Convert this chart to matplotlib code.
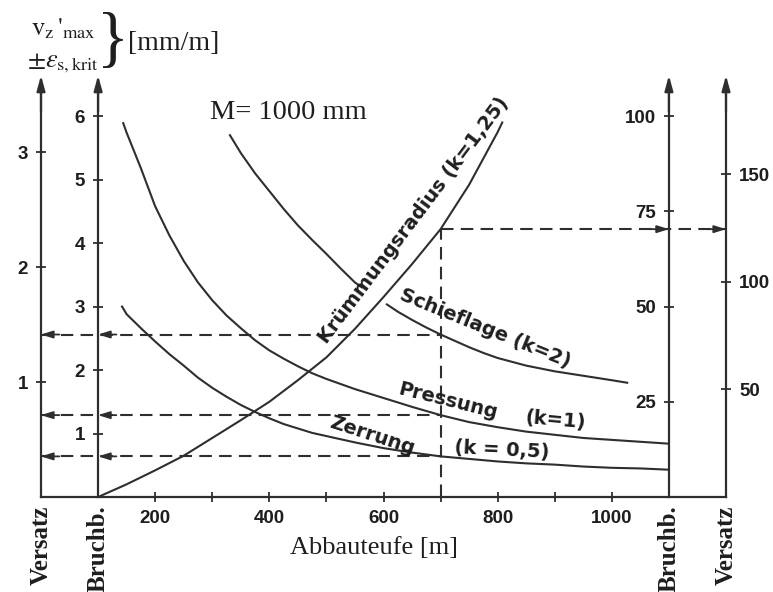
import numpy as np
import matplotlib
matplotlib.use("Agg")
import matplotlib.pyplot as plt

# ---------------- data ----------------
# Abbauteufe [m] and values on the left "Bruchb." scale [mm/m]
depth_pressung = [144, 150, 175, 200, 225, 250, 275, 300, 325, 350, 375, 400, 425,
                  450, 475, 500, 550, 600, 650, 700, 750, 800, 850, 900, 950, 1000,
                  1050, 1100]
eps_pressung = [5.89, 5.74, 5.18, 4.58, 4.12, 3.72, 3.38, 3.10, 2.86, 2.66, 2.47,
                2.31, 2.18, 2.06, 1.95, 1.86, 1.70, 1.56, 1.42, 1.29, 1.18, 1.10,
                1.03, 0.98, 0.93, 0.90, 0.87, 0.84]

depth_zerrung = [142, 150, 175, 200, 225, 250, 275, 300, 325, 350, 375, 400, 425,
                 450, 475, 500, 550, 600, 650, 700, 750, 800, 850, 900, 950, 1000,
                 1050, 1100]
eps_zerrung = [3.00, 2.88, 2.66, 2.45, 2.25, 2.07, 1.88, 1.72, 1.58, 1.45, 1.34,
               1.24, 1.15, 1.08, 1.01, 0.96, 0.86, 0.77, 0.70, 0.64, 0.60, 0.56,
               0.53, 0.51, 0.48, 0.46, 0.45, 0.43]

depth_schief = [331, 350, 375, 400, 425, 450, 475, 500, 525, 550, 575, 600, 625,
                650, 675, 700, 725, 750, 775, 800, 850, 900, 950, 1000, 1027]
eps_schief = [5.70, 5.42, 5.10, 4.82, 4.54, 4.28, 4.05, 3.83, 3.60, 3.38, 3.22,
              3.07, 2.92, 2.79, 2.67, 2.56, 2.46, 2.36, 2.27, 2.19, 2.07, 1.98,
              1.91, 1.84, 1.80]
schief_gap = (562, 606)   # curve interrupted where the Krümmungsradius line crosses

depth_kruemm = [100, 150, 200, 250, 300, 350, 400, 450, 500, 550, 600, 650, 700,
                750, 800, 808]
eps_kruemm = [0.00, 0.20, 0.42, 0.65, 0.93, 1.21, 1.50, 1.84, 2.20, 2.65, 3.15,
              3.67, 4.22, 4.92, 5.75, 5.90]

# example reading depth
depth_read = 700

# scale relations of the four vertical axes (relative to left Bruchb. scale)
f_versatz_left = 0.552     # v_z'max / eps (Versatz, left)
f_radius_bruch = 16.67     # Krümmungsradius scale, Bruchbau (right)
f_radius_versatz = 29.5    # Krümmungsradius scale, Versatz (right)

x_versatz_l, x_bruch_l, x_bruch_r, x_versatz_r = 0, 100, 1100, 1200

xticks_major = [200, 400, 600, 800, 1000]
xticks_minor = [300, 500, 700, 900]
yticks_bruch_l = [1, 2, 3, 4, 5, 6]
yticks_versatz_l = [1, 2, 3]
yticks_bruch_r = [25, 50, 75, 100]
yticks_versatz_r = [50, 100, 150]

# ---------------- figure ----------------
LC = "#2e2e2e"
TC = "#1e1e1e"
W, H = 773, 592
fig = plt.figure(figsize=(W / 100, H / 100), dpi=100)
fig.patch.set_facecolor("white")
pos = [41 / W, 95 / H, 685 / W, 417 / H]
ymax = 6.57

ax = fig.add_axes(pos)
ax.set_xlim(0, 1200)
ax.set_ylim(0, ymax)
ax.patch.set_alpha(0)

tick_font = dict(fontsize=13.5, fontweight="bold", color=TC, family="Liberation Sans")

for s in ("top", "right"):
    ax.spines[s].set_visible(False)
ax.spines["left"].set_position(("data", x_bruch_l))
for s in ("left", "bottom"):
    ax.spines[s].set_color(LC)
    ax.spines[s].set_linewidth(1.6)
ax.set_yticks(yticks_bruch_l, [str(v) for v in yticks_bruch_l], **tick_font)
ax.set_xticks(xticks_major, [str(v) for v in xticks_major], **tick_font)
ax.set_xticks(xticks_minor, minor=True)
ax.tick_params(axis="both", which="both", direction="inout", length=7, width=1.3,
               color=LC, pad=6)


def make_scale(pos_spec, side, lim, ticks):
    t = ax.twinx()
    t.set_ylim(0, lim)
    for s in ("top", "bottom", "left", "right"):
        t.spines[s].set_visible(False)
    t.spines[side].set_visible(True)
    t.spines[side].set_position(pos_spec)
    t.spines[side].set_color(LC)
    t.spines[side].set_linewidth(1.6)
    if side == "left":
        t.yaxis.tick_left()
    else:
        t.yaxis.tick_right()
    t.set_yticks(ticks, [str(v) for v in ticks], **tick_font)
    t.tick_params(axis="y", direction="inout", length=7, width=1.3, color=LC, pad=6)
    return t


make_scale(("data", x_versatz_l), "left", ymax * f_versatz_left, yticks_versatz_l)
make_scale(("data", x_bruch_r), "left", ymax * f_radius_bruch, yticks_bruch_r)
make_scale(("data", x_versatz_r), "right", ymax * f_radius_versatz, yticks_versatz_r)

# arrowheads on top of the four scales
for xa in (x_versatz_l, x_bruch_l, x_bruch_r, x_versatz_r):
    ax.annotate("", xy=(xa, ymax + 0.07), xytext=(xa, ymax - 0.5),
                arrowprops=dict(arrowstyle="-|>,head_length=0.9,head_width=0.25",
                                color=LC, lw=1.6, shrinkA=0, shrinkB=0),
                annotation_clip=False, zorder=5)

# ---------------- curves ----------------
lw = 1.5
ax.plot(depth_pressung, eps_pressung, color=LC, lw=lw, solid_joinstyle="round")
ax.plot(depth_zerrung, eps_zerrung, color=LC, lw=lw, solid_joinstyle="round")
ds = np.array(depth_schief, float)
es = np.array(eps_schief, float)
left = ds <= schief_gap[0]
right = ds >= schief_gap[1]
ax.plot(np.append(ds[left], schief_gap[0]),
        np.append(es[left], np.interp(schief_gap[0], ds, es)), color=LC, lw=lw,
        solid_joinstyle="round")
ax.plot(np.insert(ds[right], 0, schief_gap[1]),
        np.insert(es[right], 0, np.interp(schief_gap[1], ds, es)), color=LC, lw=lw,
        solid_joinstyle="round")
ax.plot(depth_kruemm, eps_kruemm, color=LC, lw=lw, solid_joinstyle="round")

# ---------------- reading example (dashed) ----------------
dash = (0, (6, 3.5))
kr_read = np.interp(depth_read, depth_kruemm, eps_kruemm)
arrow_kw = dict(arrowstyle="-|>,head_length=0.7,head_width=0.22", color=LC, lw=1.3,
                shrinkA=0, shrinkB=0)
for dd, ee in ((depth_schief, eps_schief), (depth_pressung, eps_pressung),
               (depth_zerrung, eps_zerrung)):
    lvl = np.interp(depth_read, dd, ee)
    ax.plot([x_versatz_l, depth_read], [lvl, lvl], color=LC, lw=1.5, ls=dash)
    for xa in (x_versatz_l, x_bruch_l):
        ax.annotate("", xy=(xa, lvl), xytext=(xa + 32, lvl), arrowprops=arrow_kw,
                    annotation_clip=False, zorder=5)
ax.plot([depth_read, depth_read], [0, kr_read], color=LC, lw=1.5, ls=dash)
ax.plot([depth_read, x_versatz_r], [kr_read, kr_read], color=LC, lw=1.5, ls=dash)
for xa in (x_bruch_r, x_versatz_r):
    ax.annotate("", xy=(xa, kr_read), xytext=(xa - 32, kr_read), arrowprops=arrow_kw,
                annotation_clip=False, zorder=5)

# ---------------- texts ----------------
serif = "Liberation Serif"
plt.rcParams["mathtext.fontset"] = "stix"


def ft(xp, yp, s, **kw):
    fig.text(xp / W, 1 - yp / H, s, color=TC, **kw)


lab = dict(fontsize=14, fontweight="bold", family="DejaVu Sans", ha="center", va="center")
ft(414, 220, "Krümmungsradius (k=1,25)", rotation=53, **lab)
ft(485, 328, "Schieflage (k=2)", rotation=-22, **lab)
ft(448, 401, "Pressung", rotation=-14, **lab)
ft(555, 420, "(k=1)", rotation=-5, **lab)
ft(372, 436, "Zerrung", rotation=-18, **lab)
ft(502, 450, "(k = 0,5)", rotation=-3, **lab)

ft(210, 112, "M= 1000 mm", fontsize=20.5, family=serif, ha="left", va="center")
ft(374, 548, "Abbauteufe [m]", fontsize=19, family=serif, ha="center", va="center")

rot = dict(fontsize=18, family=serif, fontweight="bold", rotation=90, ha="center", va="top")
for xa, s in ((x_versatz_l, "Versatz"), (x_bruch_l, "Bruchb."),
              (x_bruch_r, "Bruchb."), (x_versatz_r, "Versatz")):
    ax.text(xa, -0.02, s, transform=ax.get_xaxis_transform(), color=TC, **rot)

ft(63, 28, r"$\mathrm{v_z}\,'_{\mathrm{max}}$", fontsize=19, ha="center", va="center")
ft(63, 62, r"$\pm\varepsilon_{\mathrm{s,krit}}$", fontsize=19, ha="center", va="center")
ft(113, 42, "}", fontsize=48, family=serif, ha="center", va="center")
ft(128, 44, "[mm/m]", fontsize=20, family=serif, ha="left", va="center")

fig.savefig("out.png", dpi=100, facecolor="white")
